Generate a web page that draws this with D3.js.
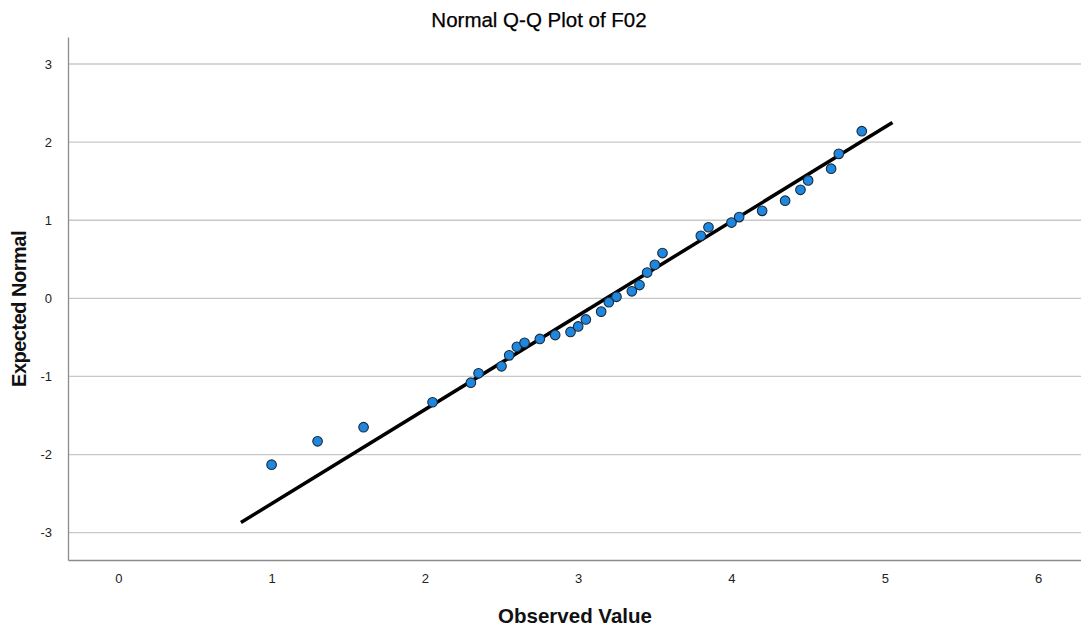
<!DOCTYPE html>
<html>
<head>
<meta charset="utf-8">
<script src="https://cdn.jsdelivr.net/npm/d3@7"></script>
<style>
  body { margin: 0; background: #fff; }
  text { font-family: "Liberation Sans", Arial, sans-serif; }
</style>
</head>
<body>
<script>
// observed values (x) and expected normal values (y)
var observed = [1.00, 1.30, 1.60, 2.05, 2.30, 2.35, 2.50, 2.55, 2.60, 2.65, 2.75, 2.85, 2.95, 3.00,
  3.05, 3.15, 3.20, 3.25, 3.35, 3.40, 3.45, 3.50, 3.55, 3.80, 3.85, 4.00, 4.05, 4.20, 4.35,
  4.45, 4.50, 4.65, 4.70, 4.85];
var expected = [-2.13, -1.83, -1.65, -1.33, -1.08, -0.96, -0.87, -0.73, -0.62, -0.57, -0.52, -0.47, -0.43, -0.36,
  -0.27, -0.17, -0.05, 0.02, 0.09, 0.17, 0.33, 0.43, 0.58, 0.80, 0.91, 0.97, 1.04, 1.12, 1.25,
  1.39, 1.51, 1.66, 1.85, 2.14];

// reference line end points
var lineX = [0.80, 5.05];
var lineY = [-2.87, 2.25];

var xTicks = [0, 1, 2, 3, 4, 5, 6];
var yTicks = [-3, -2, -1, 0, 1, 2, 3];

var svgWidth = 1081;
var svgHeight = 632;

var margin = { top: 37, right: 0, bottom: 72, left: 68 };
var chartWidth = svgWidth - margin.left - margin.right;
var chartHeight = svgHeight - margin.top - margin.bottom;

var svg = d3.select("body")
  .append("svg")
  .attr("width", svgWidth)
  .attr("height", svgHeight);

var x = d3.scaleLinear()
  .domain([-0.328, 6.28])
  .range([0, chartWidth]);

var y = d3.scaleLinear()
  .domain([-3.35, 3.346])
  .range([chartHeight, 0]);

var g = svg.append("g")
  .attr("transform", "translate(" + margin.left + "," + margin.top + ")");

// grid lines
g.selectAll(".grid")
  .data(yTicks)
  .enter()
  .append("line")
  .attr("class", "grid")
  .attr("x1", 0)
  .attr("x2", chartWidth)
  .attr("y1", function(d) { return y(d); })
  .attr("y2", function(d) { return y(d); })
  .attr("stroke", "#c8c8c8")
  .attr("stroke-width", 1.3);

// plain hyphen for negatives, like the original
var fmt = function(d) { return d < 0 ? "-" + Math.abs(d) : String(d); };

// axes
var xAxis = d3.axisBottom(x).tickValues(xTicks).tickFormat(fmt).tickSize(0).tickPadding(14);
var yAxis = d3.axisLeft(y).tickValues(yTicks).tickFormat(fmt).tickSize(0).tickPadding(16);

var gx = g.append("g")
  .attr("transform", "translate(0," + chartHeight + ")")
  .call(xAxis);
var gy = g.append("g").call(yAxis);

[gx, gy].forEach(function(a) {
  a.select(".domain").attr("stroke", "#8c8c8c").attr("stroke-width", 1.3);
  a.selectAll("text")
    .attr("fill", "#222")
    .style("font-size", "13px");
});

// reference line
g.append("line")
  .attr("x1", x(lineX[0]))
  .attr("y1", y(lineY[0]))
  .attr("x2", x(lineX[1]))
  .attr("y2", y(lineY[1]))
  .attr("stroke", "#000")
  .attr("stroke-width", 3.5);

// points
var pts = observed.map(function(d, i) { return [d, expected[i]]; });

g.selectAll("circle")
  .data(pts)
  .enter()
  .append("circle")
  .attr("r", 4.8)
  .attr("cx", function(d) { return x(d[0]); })
  .attr("cy", function(d) { return y(d[1]); })
  .attr("fill", "#1e88e0")
  .attr("stroke", "#1a2a3a")
  .attr("stroke-width", 1.1);

// title
svg.append("text")
  .attr("x", 539)
  .attr("y", 27)
  .attr("text-anchor", "middle")
  .style("font-size", "20.5px")
  .attr("fill", "#000")
  .attr("stroke", "#000")
  .attr("stroke-width", 0.25)
  .text("Normal Q-Q Plot of F02");

// axis titles
svg.append("text")
  .attr("x", 575)
  .attr("y", 623)
  .attr("text-anchor", "middle")
  .style("font-size", "20.5px")
  .style("font-weight", "bold")
  .attr("fill", "#111")
  .text("Observed Value");

svg.append("text")
  .attr("transform", "translate(26,309) rotate(-90)")
  .attr("text-anchor", "middle")
  .style("font-size", "20px")
  .style("font-weight", "bold")
  .style("letter-spacing", "-0.5px")
  .attr("fill", "#111")
  .text("Expected Normal");
</script>
</body>
</html>
